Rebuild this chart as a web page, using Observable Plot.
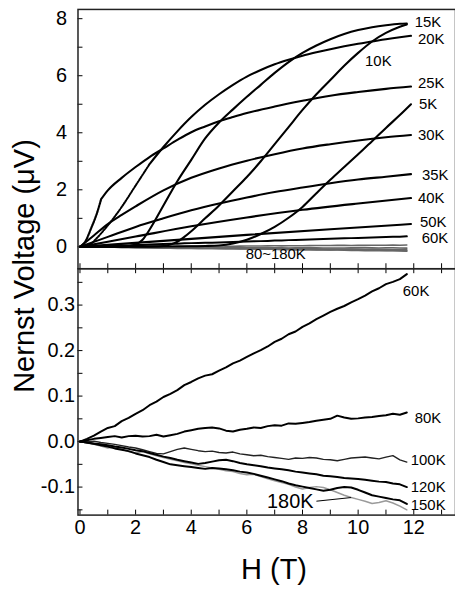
<!DOCTYPE html>
<html><head><meta charset="utf-8">
<script src="https://cdn.jsdelivr.net/npm/d3@7"></script>
<script src="https://cdn.jsdelivr.net/npm/@observablehq/plot@0.6"></script>
<style>
body{margin:0;background:#fff;}
#wrap{position:relative;width:455px;height:589px;overflow:hidden;font-family:"Liberation Sans",Arial,sans-serif;color:#000;}
#wrap svg{position:absolute;left:0;top:0;}
.ytitle{position:absolute;left:24px;top:266px;transform:translate(-50%,-50%) rotate(-90deg);font-size:29px;white-space:nowrap;}
.xtitle{position:absolute;left:274px;top:569px;transform:translate(-50%,-50%);font-size:29px;white-space:nowrap;}
</style></head><body><div id="wrap"></div>
<script>
// ---------- data: top panel (smooth curves, H in T, V in µV) ----------
const H_5K  = [0,1,2,3,4,4.5,5,5.5,6,6.5,7,7.5,8,8.5,9,9.5,10,10.5,11,11.5,11.9];
const V_5K  = [0,0,0.005,0.01,0.02,0.03,0.05,0.12,0.25,0.45,0.7,1.02,1.4,1.88,2.35,2.8,3.25,3.7,4.17,4.62,5.0];
const H_10K = [0,1,2,3,3.25,3.5,3.75,4,4.5,5,5.5,6,6.5,7,7.5,8,8.5,9,9.5,10,10.5,11,11.5,11.75];
const V_10K = [0,0.005,0.01,0.03,0.08,0.18,0.35,0.55,1.0,1.45,1.95,2.45,3.0,3.6,4.2,4.8,5.35,5.85,6.35,6.8,7.2,7.5,7.72,7.8];
const H_15K = [0,1,1.5,1.8,2,2.25,2.5,3,3.5,4,4.5,5,5.5,6,6.5,7,7.5,8,8.5,9,9.5,10,10.5,11,11.5,11.75];
const V_15K = [0,0.005,0.01,0.03,0.08,0.25,0.6,1.45,2.3,3.05,3.8,4.36,4.82,5.26,5.68,6.1,6.48,6.8,7.06,7.28,7.46,7.6,7.7,7.77,7.82,7.83];
const H_20K = [0,0.2,0.35,0.5,1,1.5,2,2.5,3,3.5,4,4.5,5,5.5,6,6.5,7,7.5,8,8.5,9,9.5,10,10.5,11,11.5,11.9];
const V_20K = [0,0.01,0.06,0.2,0.75,1.4,2.15,2.9,3.5,4.05,4.55,4.98,5.35,5.68,5.97,6.2,6.4,6.56,6.7,6.82,6.93,7.03,7.12,7.2,7.28,7.35,7.4];
const H_25K = [0,0.2,0.4,0.6,0.76,1,1.5,2,2.5,3,3.5,4,4.5,5,5.5,6,7,8,9,10,11,11.9];
const V_25K = [0,0.2,0.65,1.15,1.67,1.98,2.42,2.8,3.15,3.45,3.75,4.02,4.22,4.4,4.55,4.69,4.92,5.12,5.3,5.43,5.54,5.62];
const H_30K = [0,0.5,1,1.5,2,3,4,5,6,7,8,9,10,11,11.9];
const V_30K = [0,0.4,0.8,1.12,1.42,1.98,2.42,2.75,3.02,3.25,3.45,3.6,3.73,3.84,3.92];
const H_35K = [0,1,2,3,4,5,6,7,8,9,10,11,11.9];
const V_35K = [0,0.35,0.7,1.0,1.28,1.52,1.73,1.92,2.08,2.23,2.36,2.46,2.55];
const H_40K = [0,2,4,6,8,10,11.9];
const V_40K = [0,0.36,0.72,1.03,1.3,1.52,1.71];
const H_50K = [0,3,6,9,11.9];
const V_50K = [0,0.21,0.42,0.62,0.8];

// ---------- data: bottom panel (noisy curves) ----------
const H_low = [0,0.25,0.5,0.75,1,1.25,1.5,1.75,2,2.25,2.5,2.75,3,3.25,3.5,3.75,4,4.25,4.5,4.75,5,5.25,5.5,5.75,6,6.25,6.5,6.75,7,7.25,7.5,7.75,8,8.25,8.5,8.75,9,9.25,9.5,9.75,10,10.25,10.5,10.75,11,11.25,11.5,11.75];
const V_60K  = [0,0.006,0.013,0.022,0.030,0.034,0.045,0.052,0.061,0.069,0.080,0.088,0.098,0.105,0.113,0.124,0.131,0.139,0.145,0.148,0.156,0.163,0.172,0.178,0.186,0.194,0.201,0.209,0.219,0.226,0.236,0.242,0.252,0.260,0.269,0.277,0.285,0.292,0.298,0.306,0.313,0.321,0.330,0.337,0.346,0.351,0.357,0.368];
const V_80K  = [0,0.003,0.006,0.008,0.010,0.012,0.009,0.012,0.013,0.011,0.012,0.015,0.011,0.014,0.017,0.022,0.025,0.028,0.030,0.031,0.029,0.024,0.022,0.026,0.028,0.031,0.030,0.034,0.036,0.035,0.040,0.039,0.041,0.043,0.046,0.048,0.050,0.057,0.053,0.050,0.051,0.053,0.054,0.056,0.058,0.061,0.059,0.064];
const V_100K = [0,-0.001,0.001,-0.002,-0.004,-0.006,-0.009,-0.012,-0.014,-0.018,-0.022,-0.026,-0.027,-0.022,-0.017,-0.014,-0.017,-0.020,-0.022,-0.021,-0.024,-0.025,-0.023,-0.027,-0.029,-0.031,-0.030,-0.033,-0.035,-0.037,-0.039,-0.036,-0.037,-0.035,-0.036,-0.039,-0.040,-0.042,-0.039,-0.036,-0.035,-0.034,-0.036,-0.038,-0.034,-0.031,-0.040,-0.045];
const V_120K = [0,-0.002,-0.004,-0.006,-0.008,-0.011,-0.013,-0.016,-0.019,-0.021,-0.025,-0.029,-0.033,-0.036,-0.040,-0.043,-0.046,-0.049,-0.047,-0.044,-0.041,-0.040,-0.043,-0.047,-0.050,-0.052,-0.054,-0.057,-0.059,-0.061,-0.063,-0.066,-0.068,-0.070,-0.072,-0.075,-0.076,-0.078,-0.080,-0.081,-0.082,-0.084,-0.086,-0.088,-0.089,-0.092,-0.094,-0.100];
const V_150K = [0,-0.002,-0.005,-0.008,-0.011,-0.015,-0.018,-0.021,-0.026,-0.030,-0.034,-0.040,-0.045,-0.050,-0.052,-0.054,-0.056,-0.058,-0.060,-0.058,-0.059,-0.061,-0.063,-0.066,-0.068,-0.071,-0.075,-0.079,-0.083,-0.087,-0.092,-0.096,-0.099,-0.102,-0.105,-0.108,-0.106,-0.102,-0.100,-0.101,-0.106,-0.112,-0.118,-0.121,-0.124,-0.127,-0.129,-0.137];
const V_180K = [0,-0.003,-0.006,-0.010,-0.014,-0.012,-0.017,-0.022,-0.025,-0.022,-0.027,-0.031,-0.035,-0.039,-0.042,-0.046,-0.049,-0.052,-0.055,-0.058,-0.061,-0.064,-0.066,-0.070,-0.073,-0.072,-0.077,-0.082,-0.086,-0.090,-0.094,-0.100,-0.104,-0.101,-0.099,-0.101,-0.106,-0.112,-0.118,-0.123,-0.127,-0.131,-0.136,-0.134,-0.130,-0.135,-0.142,-0.150];

const xTickLabels = [0,2,4,6,8,10,12];
const yTopTickLabels = [0,2,4,6,8];
const yBotTickLabels = [-0.1,0.0,0.1,0.2,0.3];
const yTitle = "Nernst Voltage (\u03bcV)";
const xTitle = "H (T)";
const bandLabel = "80~180K";

// ---------- build ----------
const FONT = '"Liberation Sans", Arial, sans-serif';
const ser = (T, H, V) => H.map((h, i) => ({T, H: h, V: V[i]}));
const topSeries = [
  ser("5K", H_5K, V_5K), ser("10K", H_10K, V_10K), ser("15K", H_15K, V_15K),
  ser("20K", H_20K, V_20K), ser("25K", H_25K, V_25K), ser("30K", H_30K, V_30K),
  ser("35K", H_35K, V_35K), ser("40K", H_40K, V_40K), ser("50K", H_50K, V_50K),
  ser("60K", H_low, V_60K)
];
const lowSeries = {
  "60K": ser("60K", H_low, V_60K), "80K": ser("80K", H_low, V_80K),
  "100K": ser("100K", H_low, V_100K), "120K": ser("120K", H_low, V_120K),
  "150K": ser("150K", H_low, V_150K), "180K": ser("180K", H_low, V_180K)
};
const last = s => s[s.length - 1];

const W = 458, ML = 78;
const xDomain = [-2 / 28, (W - 80) / 28];

// top panel
const topH = 272, topMT = 9, topMB = 2, topFH = topH - topMT - topMB;
const topLabelOff = {"15K":[8,-1],"20K":[7,3],"10K":[-42,37],"25K":[7,-3],"5K":[8,0],"30K":[7,0],"35K":[11,1],"40K":[7,0],"50K":[9,-2],"60K":[15,2]};
const smoothTop = topSeries.filter(s => !["20K","25K","60K"].includes(s[0].T));
const topMarks = [
  ...["180K","150K","120K","100K","80K"].map(k => Plot.line(lowSeries[k], {x:"H", y:"V", stroke:"#666", strokeWidth:1.6})),
  Plot.line(lowSeries["60K"], {x:"H", y:"V", stroke:"#000", strokeWidth:2}),
  ...smoothTop.map(s => Plot.line(s, {x:"H", y:"V", stroke:"#000", strokeWidth:2.1, curve:"monotone-x"})),
  Plot.line(topSeries[3].filter(d => d.H <= 2.8), {x:"H", y:"V", stroke:"#000", strokeWidth:2, strokeDasharray:"1.6,1.2", curve:"monotone-x"}),
  Plot.line(topSeries[3].filter(d => d.H >= 2.5), {x:"H", y:"V", stroke:"#000", strokeWidth:2.1, curve:"monotone-x"}),
  Plot.line(topSeries[4].filter(d => d.H <= 0.76), {x:"H", y:"V", stroke:"#000", strokeWidth:2.2, strokeDasharray:"1.8,1", curve:"monotone-x"}),
  Plot.line(topSeries[4].filter(d => d.H >= 0.76), {x:"H", y:"V", stroke:"#000", strokeWidth:2.1, curve:"monotone-x"}),
  ...topSeries.map(s => {
    const o = topLabelOff[s[0].T];
    return Plot.text([last(s)], {x:"H", y:"V", text:"T", textAnchor:"start", dx:o[0], dy:o[1], fontSize:15, fill:"#000"});
  }),
  Plot.text([bandLabel], {frameAnchor:"bottom", dx:9, dy:-10, fontSize:15, fill:"#000"}),
  Plot.tickX(d3.range(0, 14), {x: d => d, insetTop: topFH - 5, stroke:"#000", strokeWidth:1}),
  Plot.tickY(d3.range(0, 9), {y: d => d, insetRight: (W - ML) - 5, stroke:"#000", strokeWidth:1}),
  Plot.axisY({ticks: yTopTickLabels, tickSize: 0, tickPadding: 11, fontSize: 20, label: null}),
  Plot.frame({stroke:"#222", strokeWidth:1.5})
];
const topPlot = Plot.plot({
  width: W, height: topH, marginTop: topMT, marginBottom: topMB, marginLeft: ML, marginRight: 0,
  x: {domain: xDomain, axis: null},
  y: {domain: [-22 / 28.71, 8 + 9.3 / 28.71], axis: null},
  style: {fontFamily: FONT, background: "transparent"},
  marks: topMarks
});

// bottom panel
const botH = 589, botMT = 270, botMB = 71, botFH = botH - botMT - botMB;
const botLabelOff = {"60K":[-4,17],"80K":[8,6],"100K":[4,-1.5],"120K":[4,0],"150K":[4,1]};
const p180 = lowSeries["180K"][39];
const botMarks = [
  Plot.line(lowSeries["180K"], {x:"H", y:"V", stroke:"#9a9a9a", strokeWidth:1.5}),
  Plot.line(lowSeries["100K"], {x:"H", y:"V", stroke:"#222", strokeWidth:1.4}),
  ...["150K","120K","80K","60K"].map(k => Plot.line(lowSeries[k], {x:"H", y:"V", stroke:"#000", strokeWidth:2})),
  ...Object.keys(botLabelOff).map(k => {
    const o = botLabelOff[k];
    return Plot.text([last(lowSeries[k])], {x:"H", y:"V", text:"T", textAnchor:"start", dx:o[0], dy:o[1], fontSize:15, fill:"#000"});
  }),
  Plot.link([p180], {x1:"H", y1:"V", x2: d => d.H - 1.25, y2: d => d.V - 0.008, stroke:"#000", strokeWidth:1}),
  Plot.text([p180], {x: d => d.H - 1.25, y: d => d.V - 0.008, text: d => d.T, textAnchor:"end", dx:-3, dy:0, fontSize:20, fill:"#000"}),
  Plot.tickX(d3.range(0, 14), {x: d => d, insetTop: botFH - 5, stroke:"#000", strokeWidth:1}),
  Plot.tickX(d3.range(0, 14), {x: d => d, insetBottom: botFH - 5, stroke:"#000", strokeWidth:1}),
  Plot.tickY(d3.range(-0.15, 0.36, 0.05), {y: d => d, insetRight: (W - ML) - 5, stroke:"#000", strokeWidth:1}),
  Plot.axisY({ticks: yBotTickLabels, tickSize: 0, tickPadding: 3, fontSize: 20, label: null, tickFormat: d => d.toFixed(1)}),
  Plot.axisX({ticks: xTickLabels, tickSize: 0, tickPadding: 5, fontSize: 20, label: null}),
  Plot.frame({stroke:"#222", strokeWidth:1.5})
];
const botPlot = Plot.plot({
  width: W, height: botH, marginTop: botMT, marginBottom: botMB, marginLeft: ML, marginRight: 0,
  x: {domain: xDomain},
  y: {domain: [-74 / 458, 174 / 458]},
  style: {fontFamily: FONT, background: "transparent"},
  marks: botMarks
});

const wrap = document.getElementById("wrap");
wrap.appendChild(botPlot);
wrap.appendChild(topPlot);
const yt = document.createElement("div"); yt.className = "ytitle"; yt.textContent = yTitle; wrap.appendChild(yt);
const xt = document.createElement("div"); xt.className = "xtitle"; xt.textContent = xTitle; wrap.appendChild(xt);
</script>
</body></html>
